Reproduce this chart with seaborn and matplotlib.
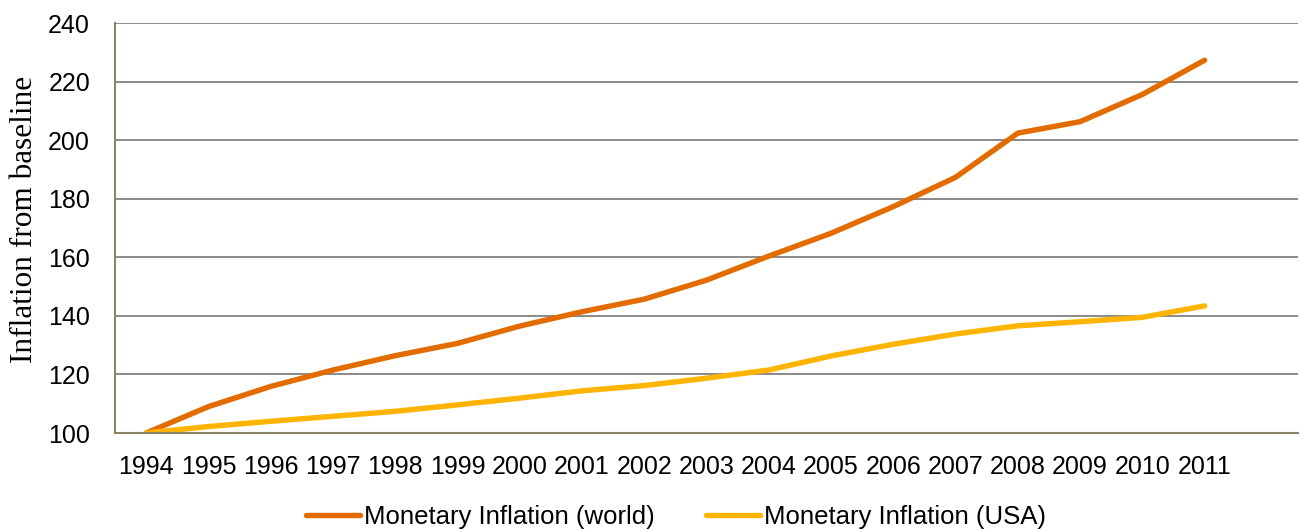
import numpy as np
import pandas as pd
import matplotlib
matplotlib.use("Agg")
import matplotlib.pyplot as plt
import seaborn as sns

# Index values (baseline 1994 = 100)
years = ["1994", "1995", "1996", "1997", "1998", "1999", "2000", "2001", "2002",
         "2003", "2004", "2005", "2006", "2007", "2008", "2009", "2010", "2011"]
world = [100, 109.0, 115.9, 121.5, 126.4, 130.6, 136.5, 141.4, 145.7,
         152.2, 160.4, 168.2, 177.3, 187.3, 202.4, 206.3, 215.6, 227.3]
usa = [100, 102.2, 104.0, 105.7, 107.4, 109.6, 111.9, 114.4, 116.2,
       118.7, 121.5, 126.3, 130.3, 133.8, 136.6, 138.0, 139.5, 143.4]
series_names = ["Monetary Inflation (world)", "Monetary Inflation (USA)"]
y_ticks = [100, 120, 140, 160, 180, 200, 220, 240]

pos = np.arange(len(years))
df = pd.concat([
    pd.DataFrame({"pos": pos, "value": world, "series": series_names[0]}),
    pd.DataFrame({"pos": pos, "value": usa, "series": series_names[1]}),
])

sns.set_style("white")
plt.rcParams["font.family"] = ["Liberation Sans", "DejaVu Sans"]
plt.rcParams["text.color"] = "black"

W, H = 1302, 531
fig = plt.figure(figsize=(W / 100, H / 100), dpi=100)
left, right, top, bottom = 115, 1298, 23, 433
ax = fig.add_axes([left / W, 1 - bottom / H, (right - left) / W, (bottom - top) / H])

palette = {series_names[0]: "#E26C00", series_names[1]: "#FFB400"}
lw = 3.9
sns.lineplot(data=df, x="pos", y="value", hue="series", palette=palette,
             linewidth=lw, ax=ax, legend=False, solid_capstyle="round")

axis_col = "#8B8467"
grid_col = "#8A8A8A"

# one empty slot after the last year
ax.set_xlim(-0.5, len(years) + 0.5)
ax.set_ylim(100, 240)

ax.set_yticks(y_ticks)
ax.set_yticklabels([str(v) for v in y_ticks], fontsize=18)
ax.tick_params(axis="y", which="major", length=8, width=1.3, color=axis_col,
               labelcolor="black", pad=10, direction="out")

# tick marks between categories, labels at category centres
ax.set_xticks(np.arange(-0.5, len(years) + 1, 1.0))
ax.set_xticklabels([])
ax.set_xticks(pos, minor=True)
ax.set_xticklabels(years, minor=True, fontsize=18)
ax.tick_params(axis="x", which="major", length=7, width=1.3, color=axis_col, direction="out")
ax.tick_params(axis="x", which="minor", length=0, pad=16, labelcolor="black")

ax.grid(axis="y", color=grid_col, linewidth=1.4)
ax.grid(axis="x", visible=False)
ax.set_axisbelow(True)

for side in ["top", "right"]:
    ax.spines[side].set_visible(False)
for side in ["left", "bottom"]:
    ax.spines[side].set_color(axis_col)
    ax.spines[side].set_linewidth(1.5)

ax.set_xlabel("")
ax.set_ylabel("Inflation from baseline", family=["Liberation Serif", "DejaVu Serif"],
              fontsize=22.5, color="black")
ax.yaxis.label.set_verticalalignment("center")
ax.yaxis.set_label_coords((25 - left) / (right - left), (bottom - 219) / (bottom - top))

handles = [plt.Line2D([], [], color=palette[n], linewidth=lw) for n in series_names]
fig.legend(handles, series_names, loc="center", bbox_to_anchor=(676 / W, 1 - 517 / H),
           ncol=2, frameon=False, fontsize=18.5, handlelength=2.1, handletextpad=0.16,
           columnspacing=2.0, borderpad=0.0)

fig.savefig("out.png", dpi=100)
